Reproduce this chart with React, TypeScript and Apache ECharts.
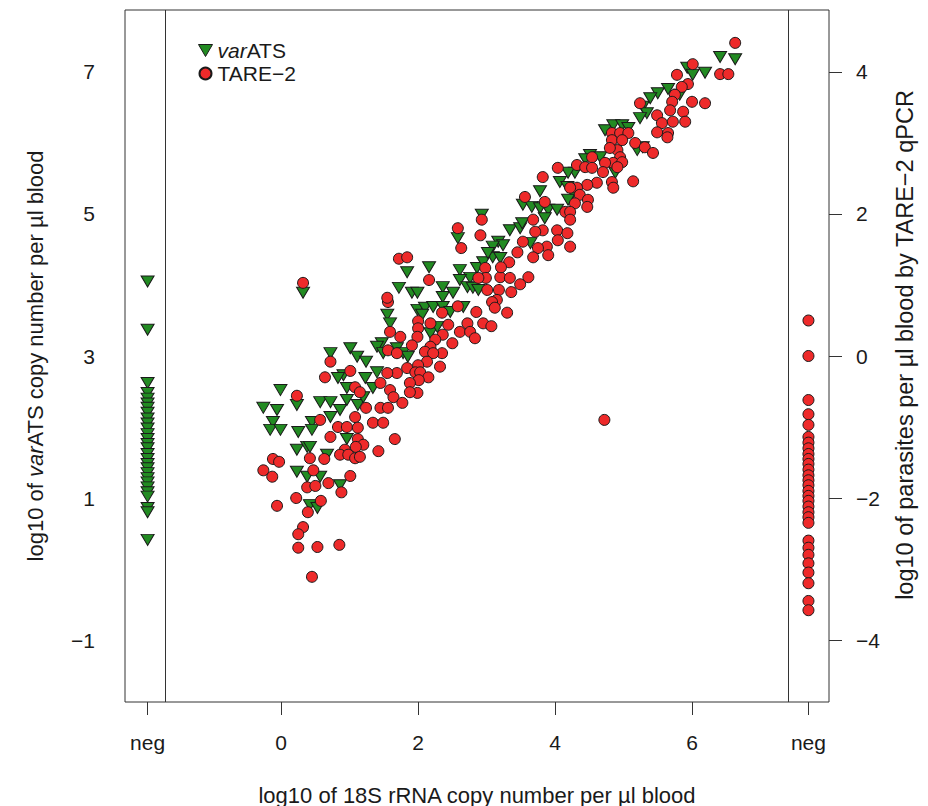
import React, { useEffect, useRef } from "react";
import * as echarts from "echarts";

// positions of the "neg" categories on the 18S axis
const NEG_LEFT = -1.95;
const NEG_RIGHT = 7.7;
const SEP_LINES = [-1.69, 7.4];

const xTickValues = [NEG_LEFT, 0, 2, 4, 6, NEG_RIGHT];
const leftTickValues = [-1, 1, 3, 5, 7];
const rightTickValues = [-4, -2, 0, 2, 4];

// varATS: [log10 18S, log10 varATS]
const varatsPoints: number[][] = [
  [3.09, 4.39], [3.2, 4.38], [2.86, 4.24], [2.95, 4.32], [2.61, 4.21], [2.76, 4.1], [2.61, 4.07], [2.72, 3.97],
  [2.8, 3.96], [2.88, 3.93], [2.36, 3.97], [2.36, 3.83], [2.51, 3.89], [2.66, 3.69], [1.84, 4.18], [2.16, 4.25],
  [1.72, 3.96], [1.91, 3.89], [1.99, 3.89], [1.55, 3.58], [1.59, 3.46], [1.99, 3.65], [2.1, 3.68], [2.22, 3.69],
  [2.36, 3.69], [2.47, 3.62], [2.06, 3.58], [2.18, 3.32], [2.28, 3.41], [1.47, 3.18], [1.4, 3.13], [1.69, 3.11],
  [1.78, 3.04], [1.85, 2.99], [1.49, 3.04], [1.01, 3.11], [1.11, 2.99], [1.24, 2.92], [0.72, 3.04], [0.91, 2.73],
  [0.83, 2.69], [1.23, 2.69], [1.4, 2.77], [1.34, 2.55], [0.96, 2.55], [-0.01, 2.52], [-0.26, 2.27], [-0.06, 2.24],
  [0.23, 2.31], [0.57, 2.35], [0.72, 2.35], [0.86, 2.24], [0.72, 2.14], [0.45, 2.07], [-0.12, 2.07], [-0.16, 1.96],
  [-0.01, 1.96], [0.25, 1.93], [0.45, 1.96], [1.12, 2.31], [1.2, 2.42], [0.96, 2.38],
  [0.23, 1.68], [0.38, 1.72], [0.42, 1.72], [0.67, 1.61], [0.96, 1.83], [0.23, 1.37], [0.38, 1.3], [0.57, 1.3],
  [0.86, 1.18], [0.42, 0.9], [0.53, 0.86],
  [6.41, 7.21], [6.63, 7.18], [6.19, 6.99], [5.93, 7.06], [6.01, 6.96], [5.65, 6.76], [5.5, 6.7], [5.39, 6.63],
  [5.82, 6.68], [5.28, 6.51], [5.34, 6.42], [5.24, 6.35], [4.73, 6.18], [4.85, 6.25], [4.98, 6.25], [5.07, 6.21],
  [5.2, 5.9], [5.28, 5.94], [4.51, 5.83], [4.66, 5.8], [4.44, 5.77], [4.88, 5.58], [4.29, 5.58], [4.19, 5.58],
  [4.07, 5.45], [4.18, 5.38], [4.26, 5.3], [4.19, 5.2], [3.78, 5.32], [3.53, 5.13], [3.66, 5.1], [3.78, 5.08],
  [3.9, 5.06], [4.03, 5.06], [3.85, 4.94], [3.34, 4.77], [3.49, 4.8], [3.17, 4.61], [3.24, 4.56], [3.09, 4.54],
  [2.93, 4.99], [2.58, 4.66], [3.02, 4.45], [3.64, 4.59], [3.52, 4.87],
  [0.32, 3.89],
];

// varATS values of samples negative by 18S
const varatsNeg = [
  4.05, 3.37, 2.62, 2.48, 2.4, 2.33, 2.27, 2.2, 2.12, 2.05, 1.98, 1.9, 1.83, 1.76, 1.7, 1.62, 1.55, 1.48, 1.42,
  1.35, 1.28, 1.22, 1.15, 1.08, 1.02, 0.86, 0.8, 0.41,
];

// TARE-2: [log10 18S, log10 parasites]
const tarePoints: number[][] = [
  [1.72, 1.37], [1.84, 1.39], [2.16, 1.07], [2.98, 1.24], [2.99, 1.1], [2.88, 1.1], [3.2, 1.11], [3.34, 1.1],
  [3.33, 1.32], [3.21, 1.25], [3.61, 1.11], [3.49, 1.01], [3.36, 0.9], [3.18, 0.93], [3.01, 0.93], [3.15, 0.79],
  [3.08, 0.76], [3.12, 0.68], [3.3, 0.61], [2.58, 0.7], [2.85, 0.62], [2.95, 0.46], [3.07, 0.42], [2.72, 0.46],
  [2.61, 0.34], [2.76, 0.34], [2.83, 0.25], [2.5, 0.18], [2.36, 0.3], [2.44, 0.44], [2.35, 0.61], [2.18, 0.46],
  [2.0, 0.49], [2.0, 0.39], [1.99, 0.27], [1.91, 0.15], [1.74, 0.27], [1.59, 0.34], [1.56, 0.76], [1.55, 0.82],
  [2.25, 0.23], [2.18, 0.13], [2.35, 0.04], [2.1, 0.06], [2.22, 0.04], [1.56, 0.08], [1.69, 0.04], [2.13, -0.08],
  [2.0, -0.13], [1.84, -0.17], [1.96, -0.23], [2.32, -0.15], [2.03, -0.23], [2.15, -0.3], [2.01, -0.34],
  [1.88, -0.38], [1.69, -0.24], [1.55, -0.24], [1.45, -0.38], [1.59, -0.48], [1.64, -0.58], [1.77, -0.66],
  [1.99, -0.52], [1.88, -0.51], [1.01, -0.21], [1.08, -0.44], [1.15, -0.51], [0.72, -0.08], [0.64, -0.3],
  [0.23, -0.56], [1.24, -0.73], [1.08, -0.86], [0.57, -0.9], [0.83, -1.0], [0.96, -1.0], [1.45, -0.73],
  [1.56, -0.73], [1.12, -1.01], [0.72, -1.14], [1.66, -1.17],
  [1.12, -1.17], [1.2, -1.25], [1.09, -1.28], [0.93, -1.32], [0.86, -1.39], [0.98, -1.39], [1.08, -1.44],
  [1.15, -1.42], [1.42, -1.34], [1.34, -0.94], [1.49, -0.94], [0.42, -1.44], [0.63, -1.45], [-0.12, -1.45],
  [-0.03, -1.49], [-0.26, -1.61], [-0.13, -1.7], [0.47, -1.61], [0.69, -1.79], [0.38, -1.85], [0.5, -1.83],
  [0.88, -1.92], [1.01, -1.69], [0.22, -2.0], [0.58, -2.04], [-0.06, -2.11], [0.39, -2.2], [0.32, -2.41],
  [0.25, -2.51], [0.25, -2.7], [0.53, -2.69], [0.85, -2.66], [0.45, -3.11],
  [6.63, 4.41], [6.01, 4.11], [5.78, 3.96], [6.41, 3.97], [6.53, 3.97], [5.94, 3.83], [5.85, 3.79], [5.75, 3.68],
  [5.24, 3.56], [5.71, 3.58], [6.0, 3.58], [6.19, 3.56], [5.68, 3.46], [5.87, 3.44], [5.49, 3.39], [5.56, 3.28],
  [5.72, 3.3], [5.9, 3.3], [5.49, 3.15], [5.65, 3.14], [5.64, 3.08], [4.83, 3.14], [4.95, 3.14], [5.07, 3.14],
  [4.83, 3.04], [4.98, 3.04], [5.17, 3.0], [5.31, 2.94], [5.43, 2.86], [4.91, 2.9], [4.8, 2.93], [4.95, 2.8],
  [4.85, 2.72], [4.98, 2.73], [4.54, 2.8], [4.73, 2.72], [4.7, 2.59], [4.91, 2.66], [4.32, 2.69], [4.44, 2.66],
  [4.54, 2.65], [4.04, 2.65], [4.83, 2.45], [4.85, 2.37], [5.14, 2.46], [4.61, 2.44], [4.47, 2.41], [4.32, 2.37],
  [4.22, 2.37], [4.36, 2.27], [4.48, 2.2], [4.47, 2.1], [4.29, 2.15], [4.15, 2.03], [4.22, 2.03], [4.22, 1.92],
  [3.82, 2.52], [3.85, 2.17], [3.56, 2.24], [3.68, 1.92], [3.82, 1.77], [3.71, 1.75], [4.03, 1.77], [4.18, 1.73],
  [4.04, 1.63], [3.88, 1.54], [3.75, 1.52], [4.22, 1.54], [3.53, 1.61], [3.45, 1.46], [3.9, 1.42], [3.68, 1.39],
  [2.93, 1.92], [2.91, 1.7], [2.63, 1.52], [2.58, 1.8],
  [0.32, 1.03], [4.72, -0.9],
];

// TARE-2 values of samples negative by 18S
const tareNeg = [
  0.5, 0.0, -0.62, -0.82, -0.97, -1.14, -1.22, -1.3, -1.38, -1.45, -1.52, -1.6, -1.68, -1.75, -1.82, -1.9, -1.97,
  -2.04, -2.12, -2.2, -2.27, -2.35, -2.6, -2.7, -2.8, -2.92, -3.05, -3.2, -3.45, -3.58,
];

const FONT = "'Liberation Sans', Arial, Helvetica, sans-serif";
const TXT = "#1a1a1a";
const GREEN = "#228b22";
const RED = "#ee2a2a";
const minus = (v: number) => String(v).replace("-", "\u2212");

export default function App() {
  const ref = useRef<HTMLDivElement>(null);
  useEffect(() => {
    if (!ref.current) return;
    const chart = echarts.init(ref.current, undefined, { renderer: "svg" });
    const italicRich = (size: number) => ({
      i: { fontStyle: "italic", fontSize: size, fontFamily: FONT, color: TXT },
    });
    chart.setOption({
      animation: false,
      backgroundColor: "#ffffff",
      grid: {
        left: 125,
        top: 10,
        width: 704,
        height: 692,
        show: true,
        borderColor: "#333",
        borderWidth: 1,
        backgroundColor: "transparent",
        containLabel: false,
        outerBoundsMode: "none",
      },
      legend: {
        orient: "vertical",
        left: 198,
        top: 40,
        padding: 0,
        itemWidth: 14,
        itemHeight: 12,
        itemGap: 2,
        textStyle: { fontSize: 21, fontFamily: FONT, color: TXT, rich: italicRich(21) },
        formatter: (name: string) => (name === "varATS" ? "{i|var}ATS" : name),
        data: [
          {
            name: "varATS",
            icon: "path://M0,0 L14,0 L7,12 Z",
            itemStyle: { color: GREEN, borderColor: "#1a1a1a", borderWidth: 1 },
          },
          { name: "TARE\u22122", icon: "circle" },
        ],
      },
      xAxis: {
        type: "value",
        min: -2.28,
        max: 8.0,
        name: "log10 of 18S rRNA copy number per \u00b5l blood",
        nameLocation: "middle",
        nameGap: 82,
        nameTextStyle: { fontSize: 22, fontFamily: FONT, color: TXT },
        axisLine: { show: false, onZero: false },
        splitLine: { show: false },
        axisTick: { show: true, length: 13, customValues: xTickValues, lineStyle: { color: "#333" } },
        axisLabel: {
          customValues: xTickValues,
          margin: 30,
          fontSize: 21,
          fontFamily: FONT,
          color: TXT,
          formatter: (v: number) => (v < -1 || v > 7 ? "neg" : minus(v)),
        },
      },
      yAxis: [
        {
          type: "value",
          position: "left",
          min: -1.873,
          max: 7.873,
          name: "log10 of {i|var}ATS copy number per \u00b5l blood",
          nameLocation: "middle",
          nameRotate: 90,
          nameGap: 79,
          nameTextStyle: { fontSize: 22, fontFamily: FONT, color: TXT, rich: italicRich(22) },
          axisLine: { show: false, onZero: false },
          splitLine: { show: false },
          axisTick: { show: false },
          axisLabel: {
            customValues: leftTickValues,
            margin: 30,
            fontSize: 21,
            fontFamily: FONT,
            color: TXT,
            formatter: (v: number) => minus(v),
          },
        },
        {
          type: "value",
          position: "right",
          min: -4.873,
          max: 4.873,
          name: "log10 of parasites per \u00b5l blood by TARE\u22122 qPCR",
          nameLocation: "middle",
          nameRotate: 90,
          nameGap: 64,
          nameTextStyle: { fontSize: 23.5, fontFamily: FONT, color: TXT, padding: [0, 0, 0, 22] },
          axisLine: { show: false, onZero: false },
          splitLine: { show: false },
          axisTick: { show: true, length: 13, customValues: rightTickValues, lineStyle: { color: "#333" } },
          axisLabel: {
            customValues: rightTickValues,
            margin: 27,
            fontSize: 21,
            fontFamily: FONT,
            color: TXT,
            formatter: (v: number) => minus(v),
          },
        },
      ],
      series: [
        {
          name: "varATS",
          type: "scatter",
          yAxisIndex: 0,
          symbol: "triangle",
          symbolRotate: 180,
          symbolSize: [13, 11],
          itemStyle: { color: GREEN, borderColor: "#1a1a1a", borderWidth: 1, opacity: 1 },
          data: [...varatsPoints, ...varatsNeg.map((y) => [NEG_LEFT, y])],
          markLine: {
            silent: true,
            symbol: ["none", "none"],
            label: { show: false },
            lineStyle: { color: "#333", type: "solid", width: 1 },
            data: SEP_LINES.map((x) => ({ xAxis: x })),
          },
        },
        {
          name: "TARE\u22122",
          type: "scatter",
          yAxisIndex: 1,
          symbol: "circle",
          symbolSize: 11,
          itemStyle: { color: RED, borderColor: "#1a1a1a", borderWidth: 1, opacity: 1 },
          data: [...tarePoints, ...tareNeg.map((y) => [NEG_RIGHT, y])],
        },
      ],
    });
    return () => chart.dispose();
  }, []);
  return (
    <div
      ref={ref}
      style={{ position: "absolute", left: 0, top: 0, width: 928, height: 806, background: "#fff" }}
    />
  );
}
